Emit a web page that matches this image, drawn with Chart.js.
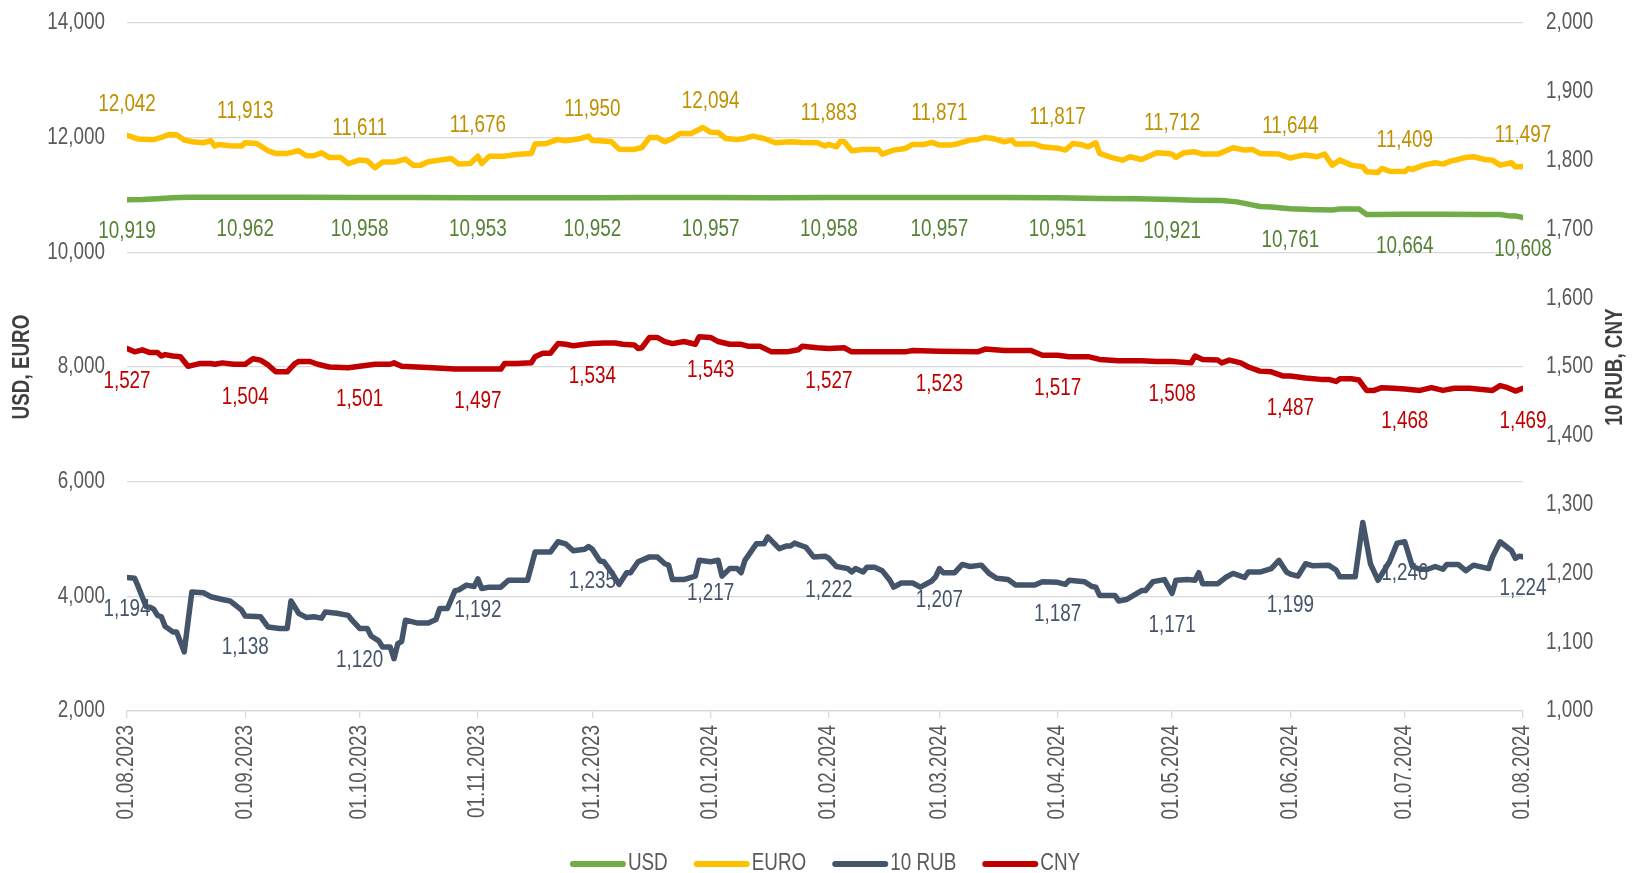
<!DOCTYPE html>
<html>
<head>
<meta charset="utf-8">
<script src="https://cdn.jsdelivr.net/npm/chart.js@4.4.1/dist/chart.umd.min.js"></script>
<style>
html, body { margin: 0; padding: 0; background: #fff; }
canvas { display: block; }
</style>
</head>
<body>
<canvas id="rateChart" width="1632" height="873"></canvas>
<script>
// Axis ticks: day offset from 01.08.2023
const monthDays = [0, 31, 61, 92, 122, 153, 184, 213, 244, 274, 305, 335, 366];
const monthLabels = ['01.08.2023', '01.09.2023', '01.10.2023', '01.11.2023', '01.12.2023', '01.01.2024',
    '01.02.2024', '01.03.2024', '01.04.2024', '01.05.2024', '01.06.2024', '01.07.2024', '01.08.2024'];

// USD (left axis)
const usdDays = [0, 4, 8, 12, 16, 31, 45, 61, 75, 92, 105, 122, 135, 153, 170, 184, 200, 213, 230, 244,
    255, 265, 274, 280, 287, 291, 294, 297, 300, 305, 310, 316, 318, 323, 325, 328, 335, 345, 355, 360, 362, 364, 366];
const usdRates = [10919, 10922, 10935, 10950, 10960, 10962, 10960, 10958, 10956, 10953, 10950, 10952, 10955, 10957, 10952, 10958, 10955, 10957, 10955, 10951,
    10940, 10935, 10921, 10910, 10905, 10880, 10840, 10800, 10790, 10761, 10745, 10740, 10755, 10755, 10660, 10658, 10664, 10663, 10662, 10660, 10640, 10635, 10608];

// EURO (left axis)
const euroDays = [0, 3, 7, 9, 11, 13, 15, 17, 20, 22, 23, 24, 27, 30, 31, 34, 37, 39, 42, 45, 47, 49, 51, 53, 56, 58,
    61, 63, 65, 67, 70, 73, 75, 77, 79, 82, 85, 87, 90, 92, 93, 95, 99, 102, 106, 107, 110, 113, 115, 119, 121,
    122, 124, 127, 129, 133, 135, 137, 139, 141, 143, 145, 148, 151, 153, 155, 157, 160, 162, 164, 167, 170, 174, 177, 181, 183,
    184, 186, 187, 188, 190, 193, 197, 198, 201, 204, 206, 209, 211, 213, 216, 218, 221, 223, 225, 227, 230, 232, 233, 238, 240,
    244, 246, 248, 250, 252, 254, 255, 258, 261, 263, 266, 270, 273, 274, 275, 277, 280, 282, 286, 290, 293, 295, 297, 302,
    305, 307, 309, 312, 314, 316, 318, 321, 324, 325, 328, 329, 331, 335, 336, 337, 340, 343, 345, 347, 349, 351, 353, 356, 358, 360, 363, 364, 366];
const euroRates = [12042, 11975, 11965, 12004, 12056, 12050, 11960, 11930, 11911, 11946, 11853, 11882, 11858, 11853, 11913, 11899, 11771, 11725, 11725, 11771, 11684, 11684, 11736, 11655, 11655, 11545,
    11611, 11597, 11475, 11574, 11574, 11626, 11521, 11521, 11579, 11608, 11637, 11539, 11550, 11676, 11550, 11678, 11678, 11707, 11725, 11888, 11899, 11969, 11946, 11986, 12027,
    11950, 11946, 11928, 11800, 11795, 11829, 12004, 12004, 11928, 11986, 12074, 12074, 12178, 12094, 12091, 11986, 11969, 11986, 12027, 11986, 11911, 11928, 11917, 11911, 11853,
    11883, 11841, 11934, 11934, 11771, 11795, 11795, 11713, 11783, 11812, 11882, 11882, 11917, 11871, 11870, 11899, 11957, 11969, 12004, 11986, 11928, 11957, 11888, 11888, 11841,
    11817, 11783, 11899, 11882, 11841, 11911, 11725, 11655, 11608, 11667, 11620, 11736, 11725, 11712, 11655, 11736, 11754, 11713, 11713, 11824, 11783, 11795, 11725, 11713,
    11644, 11678, 11696, 11667, 11713, 11521, 11608, 11521, 11492, 11405, 11393, 11463, 11416, 11409, 11463, 11446, 11521, 11562, 11539, 11591, 11620, 11655, 11667, 11620, 11608, 11521, 11562, 11492, 11497];

// 10 RUB (right axis)
const rubDays = [0, 2, 3, 5, 6, 7, 8, 9, 10, 12, 13, 15, 16, 17, 20, 22, 25, 27, 30,
    31, 35, 37, 40, 42, 43, 45, 47, 49, 51, 52, 55, 58, 59,
    61, 63, 64, 66, 67, 69, 70, 71, 72, 73, 76, 79, 81, 82, 84, 86, 87, 89, 91,
    92, 93, 95, 98, 100, 105, 107, 111, 113, 115, 117, 120, 121,
    122, 124, 125, 127, 129, 131, 132, 134, 137, 139, 141, 142, 143, 146, 149, 150,
    153, 155, 156, 158, 160, 161, 162, 165, 167, 168, 171, 173, 174, 175, 178, 180, 183,
    184, 186, 189, 190, 191, 193, 194, 196, 198, 200, 201, 203, 206, 208, 211, 212,
    213, 214, 217, 219, 221, 224, 226, 228, 231, 233, 238, 240,
    244, 246, 247, 251, 253, 254, 255, 259, 260, 262, 266, 267, 269, 272,
    274, 275, 278, 280, 281, 282, 286, 288, 290, 293, 294, 297, 300, 302, 304,
    305, 307, 309, 311, 315, 317, 318, 322, 324, 326, 328, 331, 333,
    335, 337, 339, 341, 343, 345, 346, 349, 351, 353, 357, 358, 360, 363, 364, 365, 366];
const rubRates = [1194, 1193, 1180, 1152, 1151, 1148, 1139, 1137, 1123, 1115, 1115, 1086, 1130, 1173, 1172, 1166, 1162, 1160, 1147,
    1138, 1137, 1122, 1120, 1120, 1160, 1142, 1136, 1137, 1135, 1144, 1142, 1139, 1132,
    1120, 1120, 1109, 1102, 1093, 1093, 1076, 1098, 1101, 1132, 1128, 1128, 1133, 1149, 1149, 1175, 1176, 1183, 1181,
    1192, 1178, 1180, 1180, 1190, 1190, 1231, 1231, 1246, 1243, 1233, 1235, 1239,
    1235, 1218, 1217, 1202, 1184, 1201, 1201, 1217, 1224, 1224, 1214, 1212, 1191, 1191, 1196, 1219,
    1217, 1219, 1196, 1207, 1207, 1201, 1219, 1243, 1243, 1253, 1236, 1240, 1240, 1244, 1238, 1224, 1225,
    1222, 1210, 1207, 1202, 1207, 1202, 1209, 1209, 1204, 1190, 1180, 1186, 1186, 1180, 1189, 1195,
    1207, 1201, 1201, 1213, 1210, 1212, 1200, 1193, 1191, 1183, 1183, 1188,
    1187, 1184, 1190, 1188, 1181, 1180, 1168, 1168, 1160, 1162, 1175, 1175, 1188, 1191,
    1171, 1190, 1191, 1190, 1201, 1185, 1185, 1194, 1200, 1194, 1202, 1202, 1207, 1219, 1202,
    1199, 1196, 1214, 1211, 1212, 1205, 1195, 1195, 1274, 1214, 1190, 1217, 1244,
    1246, 1210, 1206, 1206, 1210, 1206, 1213, 1213, 1204, 1212, 1207, 1224, 1246, 1233, 1222, 1225, 1224];

// CNY (right axis)
const cnyDays = [0, 2, 4, 6, 8, 9, 10, 12, 14, 16, 19, 22, 23, 25, 28,
    31, 33, 35, 37, 39, 42, 44, 45, 48, 50, 53, 58,
    61, 65, 69, 70, 72, 76, 80, 86,
    92, 98, 99, 102, 106, 107, 109, 111, 113, 115, 117, 120,
    122, 125, 128, 130, 133, 134, 135, 137, 139, 141, 143, 146, 149, 150,
    153, 155, 158, 161, 163, 166, 169, 173, 176, 177, 181,
    184, 188, 190, 195, 204, 206,
    213, 223, 225, 230, 237, 240,
    244, 247, 252, 255, 260, 266, 270,
    274, 279, 280, 282, 286, 287, 289, 292, 294, 297, 300, 303,
    305, 309, 313, 315, 317, 318, 321, 323, 325, 327, 329, 332,
    335, 339, 342, 345, 348, 352, 358, 360, 362, 364, 366];
const cnyRates = [1527, 1522, 1525, 1521, 1521, 1516, 1518, 1516, 1515, 1501, 1505, 1505, 1504, 1506, 1504,
    1504, 1512, 1510, 1503, 1493, 1493, 1505, 1508, 1508, 1504, 1500, 1499,
    1501, 1504, 1504, 1506, 1501, 1500, 1499, 1497,
    1497, 1497, 1505, 1505, 1506, 1515, 1520, 1520, 1534, 1533, 1531, 1533,
    1534, 1535, 1535, 1533, 1532, 1527, 1528, 1543, 1543, 1537, 1534, 1537, 1533, 1544,
    1543, 1537, 1533, 1533, 1530, 1530, 1522, 1522, 1525, 1530, 1528,
    1527, 1528, 1522, 1522, 1522, 1524,
    1523, 1522, 1526, 1524, 1524, 1517,
    1517, 1515, 1515, 1511, 1509, 1509, 1508,
    1508, 1506, 1516, 1511, 1510, 1506, 1510, 1506, 1500, 1494, 1493, 1487,
    1487, 1484, 1482, 1482, 1479, 1483, 1483, 1481, 1466, 1466, 1470, 1469,
    1468, 1466, 1470, 1466, 1469, 1469, 1466, 1473, 1470, 1465, 1469];

const FONT = "'Liberation Sans', Arial, sans-serif";
const NARROW = 0.82;   // no narrow face installed, so squeeze the regular one
const TEXT_GREY = '#595959';
const GRID_GREY = '#D9D9D9';

function toPoints(days, rates) {
    return days.map((d, i) => ({ x: d, y: rates[i] }));
}

function fmt(v) {
    return Math.round(v).toLocaleString('en-US');
}

// squeezed text, optionally rotated
function narrowText(ctx, text, x, y, align, rot) {
    ctx.save();
    ctx.translate(x, y);
    if (rot) ctx.rotate(rot);
    ctx.scale(NARROW, 1);
    ctx.textAlign = align;
    ctx.fillText(text, 0, 0);
    ctx.restore();
}

// value labels at every month start, drawn under the lines like in the source
const monthLabelPlugin = {
    id: 'monthLabels',
    beforeDatasetsDraw(chart) {
        const ctx = chart.ctx;
        const xs = chart.scales.x;
        ctx.save();
        ctx.font = '23px ' + FONT;
        ctx.textBaseline = 'middle';
        chart.data.datasets.forEach(ds => {
            const ys = chart.scales[ds.yAxisID];
            ctx.fillStyle = ds.labelColor;
            monthDays.forEach(d => {
                const pt = ds.data.find(p => p.x === d);
                if (!pt) return;
                narrowText(ctx, fmt(pt.y), xs.getPixelForValue(d), ys.getPixelForValue(pt.y) + ds.labelShift, 'center');
            });
        });
        ctx.restore();
    }
};

// tick labels, axis titles and legend
const decorPlugin = {
    id: 'decor',
    afterDraw(chart) {
        const ctx = chart.ctx;
        const area = chart.chartArea;
        const { x, y, y1 } = chart.scales;
        ctx.save();
        ctx.font = '23px ' + FONT;
        ctx.fillStyle = TEXT_GREY;
        ctx.textBaseline = 'middle';

        y.ticks.forEach(t => narrowText(ctx, fmt(t.value), area.left - 22, y.getPixelForValue(t.value), 'right'));
        y1.ticks.forEach(t => narrowText(ctx, fmt(t.value), area.right + 23, y1.getPixelForValue(t.value), 'left'));
        x.ticks.forEach(t => {
            const lbl = monthLabels[monthDays.indexOf(t.value)];
            narrowText(ctx, lbl, x.getPixelForValue(t.value), area.bottom + 14, 'right', -Math.PI / 2);
        });

        // axis titles
        const midY = (area.top + area.bottom) / 2;
        ctx.font = 'bold 23px ' + FONT;
        ctx.fillStyle = '#404040';
        narrowText(ctx, 'USD, EURO', 23, midY, 'center', -Math.PI / 2);
        narrowText(ctx, '10 RUB, CNY', 1616, midY, 'center', -Math.PI / 2);

        // legend
        ctx.font = '23px ' + FONT;
        const lineLen = 56, gap = 2, itemGap = 26, legendY = 864;
        const items = chart.data.datasets.map(ds => ({ text: ds.label, color: ds.borderColor, w: ctx.measureText(ds.label).width * NARROW }));
        let total = 0;
        items.forEach((it, i) => { total += lineLen + gap + it.w + (i < items.length - 1 ? itemGap : 0); });
        let lx = (area.left + area.right) / 2 - total / 2;
        items.forEach(it => {
            ctx.strokeStyle = it.color;
            ctx.lineWidth = 6;
            ctx.lineCap = 'round';
            ctx.beginPath();
            ctx.moveTo(lx + 3, legendY);
            ctx.lineTo(lx + lineLen - 3, legendY);
            ctx.stroke();
            ctx.fillStyle = TEXT_GREY;
            narrowText(ctx, it.text, lx + lineLen + gap, legendY, 'left');
            lx += lineLen + gap + it.w + itemGap;
        });
        ctx.restore();
    }
};

function makeSet(label, days, rates, color, labelColor, axis, shift) {
    return {
        label: label,
        data: toPoints(days, rates),
        borderColor: color,
        backgroundColor: color,
        borderWidth: 5.5,
        borderJoinStyle: 'round',
        borderCapStyle: 'round',
        pointRadius: 0,
        tension: 0,
        yAxisID: axis,
        labelColor: labelColor,
        labelShift: shift
    };
}

function init() {
    Chart.defaults.font.family = FONT;
    Chart.defaults.font.size = 23;
    Chart.defaults.color = TEXT_GREY;

    const ctx = document.getElementById('rateChart').getContext('2d');
    new Chart(ctx, {
        type: 'line',
        data: {
            datasets: [
                makeSet('USD', usdDays, usdRates, '#70AD47', '#548235', 'y', 32),
                makeSet('EURO', euroDays, euroRates, '#FFC000', '#BF9000', 'y', -31),
                makeSet('10 RUB', rubDays, rubRates, '#44546A', '#44546A', 'y1', 32),
                makeSet('CNY', cnyDays, cnyRates, '#C00000', '#C00000', 'y1', 33)
            ]
        },
        options: {
            responsive: false,
            devicePixelRatio: 1,
            animation: false,
            layout: { padding: { top: 23, left: 0, right: 0, bottom: 0 } },
            plugins: { legend: { display: false }, tooltip: { enabled: false } },
            scales: {
                x: {
                    type: 'linear', min: 0, max: 366,
                    afterBuildTicks: s => { s.ticks = monthDays.map(v => ({ value: v })); },
                    afterFit: s => { s.height = 162; s.paddingLeft = 0; s.paddingRight = 0; },
                    ticks: { display: false, autoSkip: false },
                    grid: { drawOnChartArea: false, color: GRID_GREY, tickLength: 7, lineWidth: 1.3 },
                    border: { color: GRID_GREY, width: 1.3 }
                },
                y: {
                    position: 'left', min: 2000, max: 14000,
                    afterFit: s => { s.width = 127; s.paddingTop = 0; s.paddingBottom = 0; },
                    ticks: { display: false, stepSize: 2000 },
                    grid: { color: GRID_GREY, lineWidth: 1.3, drawTicks: false },
                    border: { display: false }
                },
                y1: {
                    position: 'right', min: 1000, max: 2000,
                    afterFit: s => { s.width = 109; s.paddingTop = 0; s.paddingBottom = 0; },
                    ticks: { display: false, stepSize: 100 },
                    grid: { drawOnChartArea: false, drawTicks: false },
                    border: { display: false }
                }
            }
        },
        plugins: [monthLabelPlugin, decorPlugin]
    });
}

window.onload = init;
</script>
</body>
</html>
